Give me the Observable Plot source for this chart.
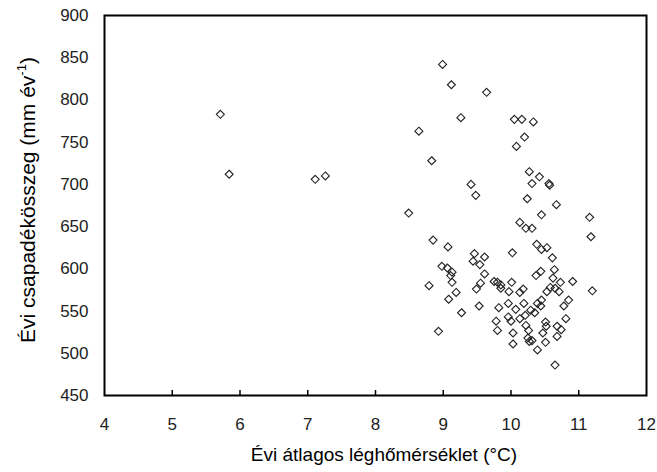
<!DOCTYPE html>
<html>
<head>
<meta charset="utf-8">
<script src="https://cdn.jsdelivr.net/npm/d3@7"></script>
<script src="https://cdn.jsdelivr.net/npm/@observablehq/plot@0.6"></script>
<style>
  html, body { margin: 0; padding: 0; background: #fff; }
  #chart svg { display: block; }
</style>
</head>
<body>
<div id="chart"></div>
<script>
// Annual mean air temperature (°C)
const temperature = [
  5.71, 5.84, 7.11, 7.26, 8.99, 9.12, 9.64, 9.26, 8.64, 10.05,
  10.16, 10.33, 10.20, 10.08, 8.83, 10.27, 10.42, 10.31, 10.56, 10.57,
  9.41, 9.48, 10.24, 10.67, 8.49, 10.45, 10.13, 10.22, 10.31, 8.85,
  9.07, 10.38, 10.45, 10.53, 10.61, 10.02, 9.46, 9.61, 9.44, 9.54,
  8.98, 9.06, 9.13, 9.61, 10.64, 10.44, 10.37, 10.62, 11.16, 11.18,
  10.91, 11.20, 10.73, 10.85, 10.78, 10.81, 9.11, 8.79, 9.13, 9.19,
  9.08, 9.27, 8.93, 9.55, 9.49, 9.53, 9.75, 9.80, 9.85, 9.85,
  10.01, 9.97, 10.13, 10.18, 9.82, 9.96, 10.07, 10.19, 9.78, 9.80,
  9.96, 10.00, 10.03, 10.03, 10.13, 10.21, 10.29, 10.35, 10.39, 10.45,
  10.44, 10.22, 10.26, 10.25, 10.27, 10.31, 10.39, 10.47, 10.51, 10.51,
  10.53, 10.58, 10.65, 10.71, 10.68, 10.74, 10.68, 10.65, 10.52
];
// Annual precipitation (mm/year)
const precipitation = [
  783, 712, 706, 710, 842, 818, 809, 779, 763, 777,
  777, 774, 756, 745, 728, 715, 709, 701, 701, 699,
  700, 687, 683, 676, 666, 664, 655, 648, 648, 634,
  626, 629, 623, 625, 613, 619, 618, 614, 609, 605,
  603, 601, 596, 594, 599, 597, 592, 589, 661, 638,
  585, 574, 584, 563, 556, 541, 592, 580, 584, 572,
  564, 548, 526, 583, 576, 556, 585, 584, 581, 577,
  584, 573, 572, 576, 554, 559, 552, 559, 538, 527,
  543, 538, 524, 511, 541, 545, 551, 548, 559, 563,
  556, 533, 527, 518, 514, 515, 504, 524, 537, 513,
  573, 578, 577, 573, 532, 528, 520, 486, 532
];
const xTicks = [4, 5, 6, 7, 8, 9, 10, 11, 12];
const yTicks = [450, 500, 550, 600, 650, 700, 750, 800, 850, 900];
const xTitle = "Évi átlagos léghőmérséklet (°C)";
const yTitleMain = "Évi csapadékösszeg (mm év";
const yTitleSup = "-1";

const points = temperature.map((t, i) => ({t, p: precipitation[i]}));

const W = 657, H = 472;
const mL = 104, mR = 11, mT = 15, mB = 77;
const font = "'Liberation Sans', Arial, sans-serif";

const plot = Plot.plot({
  width: W,
  height: H,
  marginLeft: mL,
  marginRight: mR,
  marginTop: mT,
  marginBottom: mB,
  style: {fontFamily: font, fontSize: "17px", color: "#222", background: "#fff"},
  x: {domain: [4, 12], ticks: xTicks, label: null},
  y: {domain: [450, 900], ticks: yTicks, label: null},
  marks: [
    Plot.axisX({ticks: xTicks, tickSize: 0, tickPadding: 22, fontSize: 17, label: null}),
    Plot.ruleX(xTicks.slice(1, -1), {x: d => d, y1: 450, y2: 450 + 450 * 5 / 380, stroke: "#000", strokeWidth: 1.5}),
    Plot.axisY({ticks: yTicks, tickSize: 0, tickPadding: 16, fontSize: 17, label: null}),
    Plot.dot(points, {x: "t", y: "p", symbol: "diamond2", r: 3.6, stroke: "#222", strokeWidth: 1.1, fill: "none"}),
    Plot.frame({stroke: "#000", strokeWidth: 2})
  ]
});

const svg = d3.select(plot);
// x axis title
svg.append("text")
  .attr("x", 384)
  .attr("y", 461)
  .attr("text-anchor", "middle")
  .attr("font-family", font)
  .attr("font-size", 19)
  .attr("fill", "#000")
  .text(xTitle);
// y axis title with superscript
const yt = svg.append("text")
  .attr("transform", `translate(35, 200) rotate(-90)`)
  .attr("text-anchor", "middle")
  .attr("font-family", font)
  .attr("font-size", 21)
  .attr("fill", "#000");
yt.append("tspan").text(yTitleMain);
yt.append("tspan").attr("font-size", 13).attr("dy", -9).text(yTitleSup);
yt.append("tspan").attr("dy", 9).text(")");

document.getElementById("chart").appendChild(plot);
</script>
</body>
</html>
